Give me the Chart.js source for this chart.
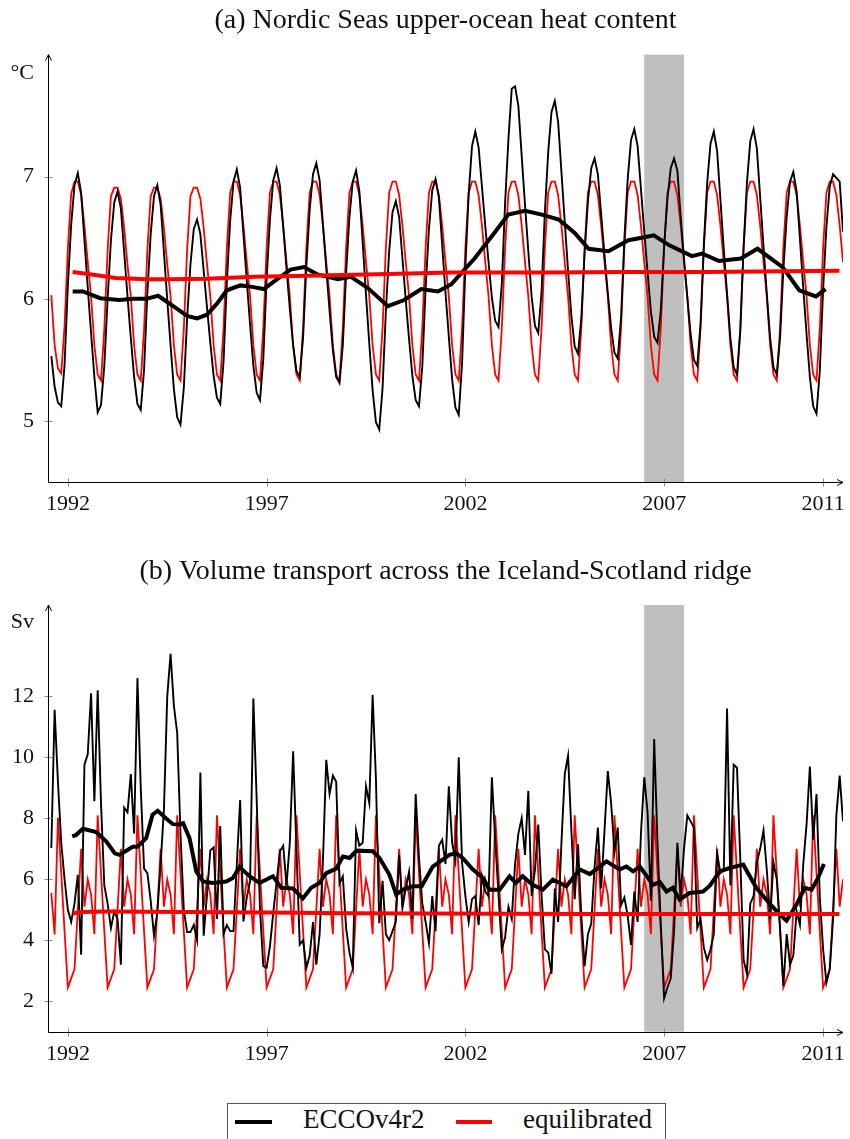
<!DOCTYPE html>
<html>
<head>
<meta charset="utf-8">
<title>Nordic Seas heat content and Iceland-Scotland transport</title>
<script src="https://cdn.jsdelivr.net/npm/chart.js@4.4.1/dist/chart.umd.min.js"></script>
<style>
  body { margin: 0; background: #fff; width: 850px; height: 1139px; position: relative; overflow: hidden; }
  canvas { position: absolute; left: 0; }
  #chartA { top: 0; }
  #chartB { top: 540px; }
  .leyenda { position: absolute; left: 227px; top: 1103px; width: 439px; height: 50px;
             border: 1px solid #555; box-sizing: border-box; font-family: 'Liberation Serif', serif; }
  .leyenda span { position: absolute; }
  .muestra { top: 16px; height: 3.5px; }
  .texto { top: 2px; font-size: 27px; line-height: 27px; color: #111; white-space: nowrap; }
</style>
</head>
<body>
<canvas id="chartA" width="850" height="540"></canvas>
<canvas id="chartB" width="850" height="555"></canvas>
<div class="leyenda">
  <span class="muestra" style="left:7px;width:37px;background:#000"></span>
  <span class="texto" style="left:75px">ECCOv4r2</span>
  <span class="muestra" style="left:228px;width:36px;background:#ff0000"></span>
  <span class="texto" style="left:295px">equilibrated</span>
</div>
<script>
// Time axis: monthly values, first month plotted at 1991.583
const startYear = 1991.5833;
const ticksX = [1992, 1997, 2002, 2007, 2011];
const shadedYears = [2006.5, 2007.5];

// (a) heat content, degC, monthly (one row per year)
const heatEcco = [
  5.53, 5.28, 5.15, 5.12, 5.46, 6.11, 6.61, 6.93, 7.03, 6.87, 6.48, 6.09,
  5.72, 5.36, 5.07, 5.13, 5.45, 6.00, 6.48, 6.79, 6.88, 6.74, 6.38, 6.02,
  5.68, 5.36, 5.14, 5.09, 5.42, 6.05, 6.53, 6.84, 6.93, 6.77, 6.38, 5.99,
  5.62, 5.26, 5.03, 4.97, 5.27, 5.84, 6.28, 6.57, 6.65, 6.53, 6.23, 5.93,
  5.64, 5.37, 5.19, 5.14, 5.49, 6.14, 6.64, 6.96, 7.06, 6.91, 6.53, 6.15,
  5.79, 5.45, 5.23, 5.17, 5.51, 6.16, 6.65, 6.97, 7.07, 6.93, 6.59, 6.25,
  5.92, 5.62, 5.41, 5.36, 5.68, 6.27, 6.73, 7.02, 7.11, 6.97, 6.61, 6.25,
  5.90, 5.58, 5.36, 5.31, 5.62, 6.21, 6.67, 6.96, 7.05, 6.88, 6.46, 6.03,
  5.63, 5.25, 4.99, 4.93, 5.27, 5.90, 6.39, 6.71, 6.80, 6.67, 6.33, 5.99,
  5.67, 5.37, 5.17, 5.12, 5.45, 6.09, 6.57, 6.89, 6.98, 6.83, 6.44, 6.05,
  5.69, 5.34, 5.11, 5.05, 5.47, 6.26, 6.86, 7.25, 7.37, 7.24, 6.92, 6.60,
  6.30, 6.01, 5.82, 5.77, 6.12, 6.79, 7.31, 7.72, 7.74, 7.58, 7.17, 6.77,
  6.39, 6.02, 5.78, 5.72, 6.06, 6.71, 7.20, 7.53, 7.62, 7.45, 7.04, 6.63,
  6.23, 5.86, 5.61, 5.55, 5.84, 6.38, 6.80, 7.07, 7.15, 7.02, 6.69, 6.36,
  6.05, 5.76, 5.56, 5.51, 5.85, 6.49, 6.98, 7.30, 7.39, 7.25, 6.90, 6.55,
  6.22, 5.90, 5.69, 5.64, 5.91, 6.43, 6.82, 7.07, 7.15, 7.05, 6.67, 6.33,
  6.01, 5.71, 5.50, 5.45, 5.80, 6.45, 6.95, 7.27, 7.37, 7.21, 6.81, 6.41,
  6.04, 5.68, 5.44, 5.38, 5.74, 6.43, 6.95, 7.29, 7.39, 7.23, 6.83, 6.43,
  6.04, 5.68, 5.44, 5.38, 5.68, 6.24, 6.67, 6.96, 7.04, 6.88, 6.49, 6.09,
  5.71, 5.36, 5.12, 5.06, 5.41, 6.08, 6.59, 6.92, 7.02, 6.99, 6.96, 6.55
];
const heatEquil = [
  6.03, 5.62, 5.43, 5.39, 5.78, 6.42, 6.86, 6.96, 6.96, 6.85, 6.60, 6.30,
  6.02, 5.62, 5.38, 5.33, 5.75, 6.40, 6.84, 6.91, 6.91, 6.82, 6.58, 6.28,
  6.02, 5.62, 5.38, 5.33, 5.75, 6.40, 6.84, 6.91, 6.91, 6.82, 6.58, 6.28,
  6.02, 5.62, 5.38, 5.33, 5.75, 6.40, 6.84, 6.91, 6.91, 6.82, 6.58, 6.28,
  6.02, 5.62, 5.38, 5.33, 5.76, 6.42, 6.87, 6.96, 6.96, 6.85, 6.60, 6.30,
  6.02, 5.62, 5.38, 5.33, 5.76, 6.42, 6.87, 6.96, 6.96, 6.85, 6.60, 6.30,
  6.02, 5.62, 5.38, 5.33, 5.76, 6.42, 6.87, 6.96, 6.96, 6.85, 6.60, 6.30,
  6.02, 5.62, 5.38, 5.33, 5.76, 6.42, 6.87, 6.96, 6.96, 6.85, 6.60, 6.30,
  6.02, 5.62, 5.38, 5.33, 5.76, 6.42, 6.87, 6.96, 6.96, 6.85, 6.60, 6.30,
  6.02, 5.62, 5.38, 5.33, 5.76, 6.42, 6.87, 6.96, 6.96, 6.85, 6.60, 6.30,
  6.02, 5.62, 5.38, 5.33, 5.76, 6.42, 6.87, 6.96, 6.96, 6.85, 6.60, 6.30,
  6.02, 5.62, 5.38, 5.33, 5.76, 6.42, 6.87, 6.96, 6.96, 6.85, 6.60, 6.30,
  6.02, 5.62, 5.38, 5.33, 5.76, 6.42, 6.87, 6.96, 6.96, 6.85, 6.60, 6.30,
  6.02, 5.62, 5.38, 5.33, 5.76, 6.42, 6.87, 6.96, 6.96, 6.85, 6.60, 6.30,
  6.02, 5.62, 5.38, 5.33, 5.76, 6.42, 6.87, 6.96, 6.96, 6.85, 6.60, 6.30,
  6.02, 5.62, 5.38, 5.33, 5.76, 6.42, 6.87, 6.96, 6.96, 6.85, 6.60, 6.30,
  6.02, 5.62, 5.38, 5.33, 5.76, 6.42, 6.87, 6.96, 6.96, 6.85, 6.60, 6.30,
  6.02, 5.62, 5.38, 5.33, 5.76, 6.42, 6.87, 6.96, 6.96, 6.85, 6.60, 6.30,
  6.02, 5.62, 5.38, 5.33, 5.76, 6.42, 6.87, 6.96, 6.96, 6.85, 6.60, 6.30,
  6.02, 5.62, 5.38, 5.33, 5.76, 6.42, 6.87, 6.96, 6.96, 6.85, 6.60, 6.30
];
// (a) running means
const heatMeanYears = [
  1992.12, 1992.38, 1992.81, 1993.3, 1993.65, 1993.98, 1994.27, 1994.65, 1995.0, 1995.25,
  1995.5, 1995.75, 1996.0, 1996.34, 1996.6, 1996.93, 1997.18, 1997.6, 1997.94, 1998.28,
  1998.79, 1999.12, 1999.54, 2000.05, 2000.46, 2000.89, 2001.31, 2001.65, 2002.23, 2002.66,
  2003.08, 2003.5, 2003.92, 2004.35, 2004.75, 2005.1, 2005.6, 2006.1, 2006.44, 2006.74,
  2007.12, 2007.7, 2007.96, 2008.38, 2008.93, 2009.35, 2009.98, 2010.4, 2010.82, 2011.06
];
const heatMeanEcco = [
  6.06, 6.06, 6.005, 5.99, 6.0, 6.0, 6.025, 5.94, 5.86, 5.84,
  5.87, 5.96, 6.07, 6.11, 6.10, 6.08, 6.14, 6.24, 6.26, 6.20,
  6.16, 6.18, 6.09, 5.94, 5.99, 6.08, 6.06, 6.12, 6.33, 6.51,
  6.69, 6.72, 6.69, 6.65, 6.54, 6.41, 6.39, 6.48, 6.50, 6.52,
  6.44, 6.35, 6.37, 6.31, 6.33, 6.41, 6.26, 6.07, 6.02, 6.08
];
const heatMeanEquilYears = [1992.12, 1992.6, 1993.2, 1994.0, 1994.5, 1995.5, 1996.7, 1998.0, 1999.5, 2001.65, 2004.0, 2006.0, 2008.0, 2010.0, 2011.41];
const heatMeanEquil = [6.22, 6.20, 6.17, 6.16, 6.16, 6.165, 6.18, 6.19, 6.20, 6.215, 6.215, 6.22, 6.22, 6.225, 6.23];

// (b) volume transport, Sv, monthly (one row per year)
const transEcco = [
  7.03, 11.56, 9.2, 7.2, 6.0, 5.0, 4.6, 5.2, 6.15, 3.53, 9.76, 10.1,
  12.1, 8.56, 12.2, 8.5, 5.8, 5.2, 4.4, 4.95, 4.7, 3.2, 8.35, 8.2,
  9.45, 7.5, 12.6, 9.0, 6.35, 6.2, 5.3, 4.15, 4.9, 6.5, 8.3, 12.0,
  13.4, 11.7, 10.8, 7.5, 5.0, 4.27, 4.27, 4.5, 4.0, 9.5, 4.15, 5.5,
  6.95, 7.05, 4.7, 7.75, 4.2, 4.5, 4.3, 4.3, 6.5, 8.6, 4.62, 5.4,
  5.93, 11.93, 8.6, 5.0, 3.15, 3.1, 3.8, 4.9, 5.9, 6.92, 7.1, 5.8,
  7.2, 10.2, 7.0, 3.86, 4.0, 3.1, 3.5, 4.6, 3.2, 4.2, 6.6, 9.92,
  8.8, 9.4, 9.2, 5.86, 6.1, 4.4, 3.6, 3.1, 7.6, 7.1, 7.2, 9.05,
  8.5, 12.05, 9.3, 4.56, 5.95, 4.2, 4.0, 4.3, 4.6, 6.8, 5.05, 5.7,
  6.25, 4.7, 8.8, 6.7, 5.2, 4.6, 3.9, 5.45, 4.3, 7.1, 7.3, 6.5,
  9.05, 7.2, 6.6, 10.0, 6.55, 5.45, 4.6, 5.35, 5.45, 4.5, 6.1, 5.6,
  5.45, 9.35, 7.3, 5.5, 3.7, 4.1, 5.1, 4.7, 6.5, 7.5, 8.0, 6.8,
  8.9, 5.45, 6.3, 7.8, 5.5, 3.7, 3.6, 2.9, 5.7, 4.6, 7.2, 9.45,
  10.05, 7.6, 5.35, 7.15, 4.8, 3.15, 4.2, 4.55, 6.4, 7.7, 5.7, 7.6,
  9.55, 8.5, 6.9, 7.7, 5.15, 5.4, 4.8, 3.85, 5.6, 4.6, 7.5, 9.35,
  8.2, 5.3, 10.6, 7.2, 4.5, 2.1, 2.45, 2.75, 4.3, 7.2, 5.45, 7.0,
  8.1, 7.9, 7.7, 4.4, 4.7, 3.75, 3.35, 3.7, 4.2, 6.85, 6.2, 6.3,
  11.6, 5.8, 9.76, 9.66, 6.65, 3.35, 2.9, 5.2, 5.45, 6.55, 7.0, 7.6,
  6.3, 4.7, 6.55, 6.0, 4.4, 2.5, 4.2, 3.2, 3.5, 4.95, 4.5, 6.5,
  7.8, 9.7, 7.3, 8.8, 5.4, 3.7, 2.6, 3.05, 4.7, 8.1, 9.4, 7.9
];
const transEquil = [
  5.55, 4.19, 8.03, 6.2, 4.3, 2.45, 2.75, 3.05, 5.0, 7.0, 5.1, 6.0,
  5.5, 4.2, 8.1, 6.2, 4.3, 2.45, 2.75, 3.05, 5.0, 7.0, 5.1, 6.0,
  5.5, 4.2, 8.1, 6.2, 4.3, 2.45, 2.75, 3.05, 5.0, 7.0, 5.1, 6.0,
  5.5, 4.2, 8.1, 6.2, 4.3, 2.45, 2.75, 3.05, 5.0, 7.0, 5.1, 6.0,
  5.5, 4.2, 8.1, 6.2, 4.3, 2.45, 2.75, 3.05, 5.0, 7.0, 5.1, 6.0,
  5.5, 4.2, 8.1, 6.2, 4.3, 2.45, 2.75, 3.05, 5.0, 7.0, 5.1, 6.0,
  5.5, 4.2, 8.1, 6.2, 4.3, 2.45, 2.75, 3.05, 5.0, 7.0, 5.1, 6.0,
  5.5, 4.2, 8.1, 6.2, 4.3, 2.45, 2.75, 3.05, 5.0, 7.0, 5.1, 6.0,
  5.5, 4.2, 8.1, 6.2, 4.3, 2.45, 2.75, 3.05, 5.0, 7.0, 5.1, 6.0,
  5.5, 4.2, 8.1, 6.2, 4.3, 2.45, 2.75, 3.05, 5.0, 7.0, 5.1, 6.0,
  5.5, 4.2, 8.1, 6.2, 4.3, 2.45, 2.75, 3.05, 5.0, 7.0, 5.1, 6.0,
  5.5, 4.2, 8.1, 6.2, 4.3, 2.45, 2.75, 3.05, 5.0, 7.0, 5.1, 6.0,
  5.5, 4.2, 8.1, 6.2, 4.3, 2.45, 2.75, 3.05, 5.0, 7.0, 5.1, 6.0,
  5.5, 4.2, 8.1, 6.2, 4.3, 2.45, 2.75, 3.05, 5.0, 7.0, 5.1, 6.0,
  5.5, 4.2, 8.1, 6.2, 4.3, 2.45, 2.75, 3.05, 5.0, 7.0, 5.1, 6.0,
  5.5, 4.2, 8.1, 6.2, 4.3, 2.45, 2.75, 3.05, 5.0, 7.0, 5.1, 6.0,
  5.5, 4.2, 8.1, 6.2, 4.3, 2.45, 2.75, 3.05, 5.0, 7.0, 5.1, 6.0,
  5.5, 4.2, 8.1, 6.2, 4.3, 2.45, 2.75, 3.05, 5.0, 7.0, 5.1, 6.0,
  5.5, 4.2, 8.1, 6.2, 4.3, 2.45, 2.75, 3.05, 5.0, 7.0, 5.1, 6.0,
  5.5, 4.2, 8.1, 6.2, 4.3, 2.45, 2.75, 3.05, 5.0, 7.0, 5.1, 6.0
];
// (b) running means
const transMeanYears = [
  1992.11, 1992.2, 1992.38, 1992.71, 1992.97, 1993.18, 1993.3, 1993.63, 1993.75, 1993.97,
  1994.13, 1994.26, 1994.48, 1994.64, 1994.8, 1994.9, 1995.06, 1995.23, 1995.4, 1995.64,
  1995.98, 1996.15, 1996.32, 1996.57, 1996.82, 1997.16, 1997.37, 1997.66, 1997.91, 1998.12,
  1998.33, 1998.5, 1998.75, 1998.92, 1999.09, 1999.26, 1999.67, 1999.84, 2000.09, 2000.26,
  2000.43, 2000.68, 2000.9, 2001.18, 2001.6, 2001.77, 2001.93, 2002.19, 2002.44, 2002.61,
  2002.86, 2003.11, 2003.27, 2003.44, 2003.69, 2003.95, 2004.2, 2004.54, 2004.88, 2005.13,
  2005.55, 2005.88, 2006.05, 2006.22, 2006.39, 2006.72, 2006.89, 2007.06, 2007.22, 2007.39,
  2007.64, 2007.98, 2008.15, 2008.4, 2008.65, 2008.99, 2009.32, 2009.57, 2009.91, 2010.08,
  2010.33, 2010.54, 2010.71, 2010.87, 2011.02
];
const transMeanEcco = [
  7.41, 7.45, 7.66, 7.55, 7.24, 6.85, 6.8, 7.07, 7.07, 7.35,
  8.12, 8.25, 7.99, 7.81, 7.8, 7.84, 7.35, 6.26, 5.93, 5.88,
  5.93, 6.04, 6.4, 6.1, 5.88, 6.1, 5.72, 5.7, 5.37, 5.72,
  5.88, 6.2, 6.35, 6.75, 6.7, 6.94, 6.92, 6.7, 6.15, 5.5,
  5.66, 5.77, 5.77, 6.42, 6.8, 6.86, 6.7, 6.32, 6.05, 5.66,
  5.66, 6.1, 5.88, 6.1, 5.82, 5.66, 5.99, 5.77, 6.32, 6.17,
  6.59, 6.32, 6.42, 6.26, 6.42, 5.82, 5.91, 5.6, 5.72, 5.33,
  5.55, 5.6, 5.79, 6.26, 6.37, 6.48, 5.72, 5.33, 4.84, 4.64,
  5.17, 5.72, 5.66, 6.04, 6.5
];
const transMeanEquilYears = [1992.12, 1992.3, 1993.0, 1995.0, 1997.0, 1999.0, 2001.0, 2003.0, 2005.0, 2007.0, 2009.0, 2011.41];
const transMeanEquil = [4.88, 4.93, 4.94, 4.93, 4.91, 4.89, 4.88, 4.87, 4.86, 4.86, 4.86, 4.86];

const fuente = "'Liberation Serif', 'Times New Roman', serif";

// monthly series -> {x, y}
function serieMensual(valores) {
  return valores.map((v, i) => ({ x: startYear + i / 12, y: v }));
}

function seriePorAnios(anios, valores) {
  return anios.map((a, i) => ({ x: a, y: valores[i] }));
}

// gray shaded period behind the lines
const bandaPlugin = {
  id: 'banda',
  beforeDatasetsDraw(chart) {
    const { ctx, chartArea: a, scales: { x } } = chart;
    const x0 = x.getPixelForValue(shadedYears[0]);
    const x1 = x.getPixelForValue(shadedYears[1]);
    ctx.save();
    ctx.fillStyle = '#bfbfbf';
    ctx.fillRect(x0, a.top, x1 - x0, a.bottom - a.top);
    ctx.restore();
  }
};

// axis lines with arrow heads and ticks crossing the axes
const ejesPlugin = {
  id: 'ejes',
  afterDatasetsDraw(chart, args, opts) {
    const { ctx, chartArea: a, scales: { x, y } } = chart;
    const left = Math.round(a.left) + 0.5;
    const bottom = Math.round(a.bottom) + 0.5;
    ctx.save();
    ctx.lineWidth = 1;
    ctx.strokeStyle = '#8a8a8a';
    ctx.beginPath();
    ticksX.forEach(v => {
      const px = Math.round(x.getPixelForValue(v)) + 0.5;
      ctx.moveTo(px, bottom - 4);
      ctx.lineTo(px, bottom + 4);
    });
    opts.ticksY.forEach(v => {
      const py = Math.round(y.getPixelForValue(v)) + 0.5;
      ctx.moveTo(left - 4, py);
      ctx.lineTo(left + 4, py);
    });
    ctx.stroke();

    ctx.strokeStyle = '#000';
    ctx.beginPath();
    ctx.moveTo(left, bottom);
    ctx.lineTo(a.right, bottom);
    ctx.moveTo(left, bottom);
    ctx.lineTo(left, a.top);
    // arrow heads
    ctx.moveTo(a.right - 6, bottom - 3);
    ctx.lineTo(a.right, bottom);
    ctx.lineTo(a.right - 6, bottom + 3);
    ctx.moveTo(left - 3, a.top + 6);
    ctx.lineTo(left, a.top);
    ctx.lineTo(left + 3, a.top + 6);
    ctx.stroke();
    ctx.restore();
  }
};

function crearPanel(idCanvas, cfg) {
  const datasets = [
    { data: seriePorAnios(cfg.mediaEquilAnios, cfg.mediaEquil), borderColor: '#ff0000', borderWidth: 4 },
    { data: seriePorAnios(cfg.mediaEccoAnios, cfg.mediaEcco), borderColor: '#000000', borderWidth: 4 },
    { data: serieMensual(cfg.ecco), borderColor: '#000000', borderWidth: 1.9 },
    { data: serieMensual(cfg.equil), borderColor: '#ff0000', borderWidth: 1.8 }
  ].map(d => ({ ...d, pointRadius: 0, tension: 0, fill: false }));

  const ticksFont = { family: fuente, size: 22 };

  return new Chart(document.getElementById(idCanvas).getContext('2d'), {
    type: 'line',
    data: { datasets },
    plugins: [bandaPlugin, ejesPlugin],
    options: {
      responsive: false,
      animation: false,
      events: [],
      layout: { padding: { left: 0, right: 7, top: 0, bottom: 0 } },
      plugins: {
        legend: { display: false },
        tooltip: { enabled: false },
        title: {
          display: true,
          fullSize: false,
          text: cfg.titulo,
          color: '#111',
          font: { family: fuente, size: 28, weight: 'normal' },
          padding: cfg.tituloPadding
        },
        ejes: { ticksY: cfg.ticksY }
      },
      scales: {
        x: {
          type: 'linear',
          min: 1991.5,
          max: 2011.5,
          grid: { display: false, drawTicks: false },
          border: { display: false },
          afterBuildTicks: s => { s.ticks = ticksX.map(v => ({ value: v })); },
          // fixed height, and no extra side padding for the end labels
          afterFit: s => { s.height = cfg.altoEjeX; s.paddingLeft = 0; s.paddingRight = 0; },
          ticks: { autoSkip: false, maxRotation: 0, padding: 9, color: '#111', font: ticksFont,
                   callback: v => String(v) }
        },
        y: {
          type: 'linear',
          min: cfg.yMin,
          max: cfg.yMax,
          grid: { display: false, drawTicks: false },
          border: { display: false },
          afterBuildTicks: s => { s.ticks = cfg.ticksY.concat([cfg.posUnidad]).map(v => ({ value: v })); },
          afterFit: s => { s.width = 48; s.paddingTop = 0; s.paddingBottom = 0; },
          ticks: { autoSkip: false, padding: 14, color: '#111', font: ticksFont,
                   callback: v => (v === cfg.posUnidad ? cfg.unidad : String(v)) }
        }
      }
    }
  });
}

crearPanel('chartA', {
  titulo: '(a) Nordic Seas upper-ocean heat content',
  tituloPadding: { top: 4, bottom: 17 },
  altoEjeX: 58,
  yMin: 4.5, yMax: 8,
  ticksY: [5, 6, 7],
  unidad: '°C', posUnidad: 7.846,
  ecco: heatEcco, equil: heatEquil,
  mediaEccoAnios: heatMeanYears, mediaEcco: heatMeanEcco,
  mediaEquilAnios: heatMeanEquilYears, mediaEquil: heatMeanEquil
});

crearPanel('chartB', {
  titulo: '(b) Volume transport across the Iceland-Scotland ridge',
  tituloPadding: { top: 15, bottom: 16.4 },
  altoEjeX: 63.3,
  yMin: 1, yMax: 15,
  ticksY: [2, 4, 6, 8, 10, 12],
  unidad: 'Sv', posUnidad: 14.42,
  ecco: transEcco, equil: transEquil,
  mediaEccoAnios: transMeanYears, mediaEcco: transMeanEcco,
  mediaEquilAnios: transMeanEquilYears, mediaEquil: transMeanEquil
});
</script>
</body>
</html>
